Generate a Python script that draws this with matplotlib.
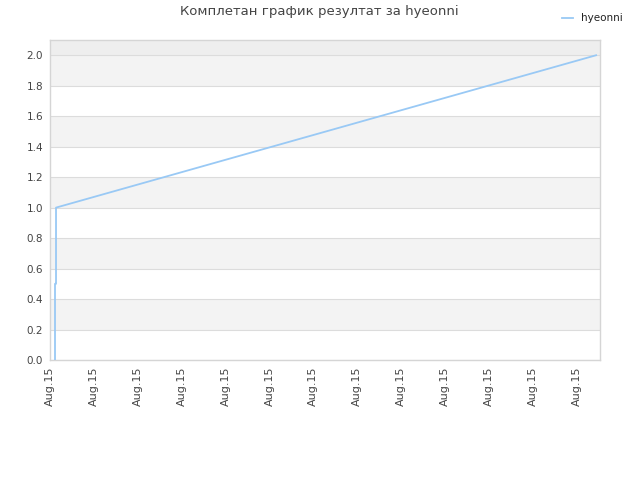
import matplotlib
matplotlib.use("Agg")
import matplotlib.pyplot as plt
import numpy as np

title = "Комплетан график резултат за hyeonni"
series_name = "hyeonni"
x_vals = [0.114, 0.114, 0.137, 0.137, 12.44]
y_vals = [0.0, 0.5, 0.5, 1.0, 2.0]
tick_positions = list(range(13))
tick_labels = ["Aug.15"] * 13
y_ticks = [0.0, 0.2, 0.4, 0.6, 0.8, 1.0, 1.2, 1.4, 1.6, 1.8, 2.0]

fig = plt.figure(figsize=(6.4, 4.8), dpi=100)
ax = fig.add_axes([50/640, 120/480, 550/640, 320/480])
ax.set_xlim(0, 550/43.9)
ax.set_ylim(0, 2.1)

# bands
for i, lo in enumerate(y_ticks[:-1]):
    if i % 2 == 1:
        ax.axhspan(lo, lo + 0.2, color="#f3f3f3", zorder=0, lw=0)
ax.axhspan(2.0, 2.1, color="#eeeeee", zorder=0, lw=0)
for y in y_ticks:
    ax.axhline(y, color="#dcdcdc", lw=0.8, zorder=1)

ax.plot(x_vals, y_vals, color="#99c9f5", lw=1.3, zorder=3, label=series_name)

ax.set_xticks(tick_positions)
ax.set_xticklabels(tick_labels, rotation=90, fontsize=8, color="#444444")
ax.set_yticks(y_ticks)
ax.set_yticklabels([f"{v:.1f}" for v in y_ticks], fontsize=7.5, color="#444444")
ax.tick_params(axis="both", length=0, pad=5)
for s in ax.spines.values():
    s.set_color("#d5d5d5")
    s.set_linewidth(1)

fig.text(319/640, 1 - 12/480, title, ha="center", va="center", fontsize=9.5, color="#444444")
fig.legend(loc="upper right", bbox_to_anchor=(632/640, 1 - 4/480), frameon=False,
           fontsize=7.5, handlelength=1.0, handletextpad=0.8, labelcolor="#222222")

fig.savefig("out.png", dpi=100)
